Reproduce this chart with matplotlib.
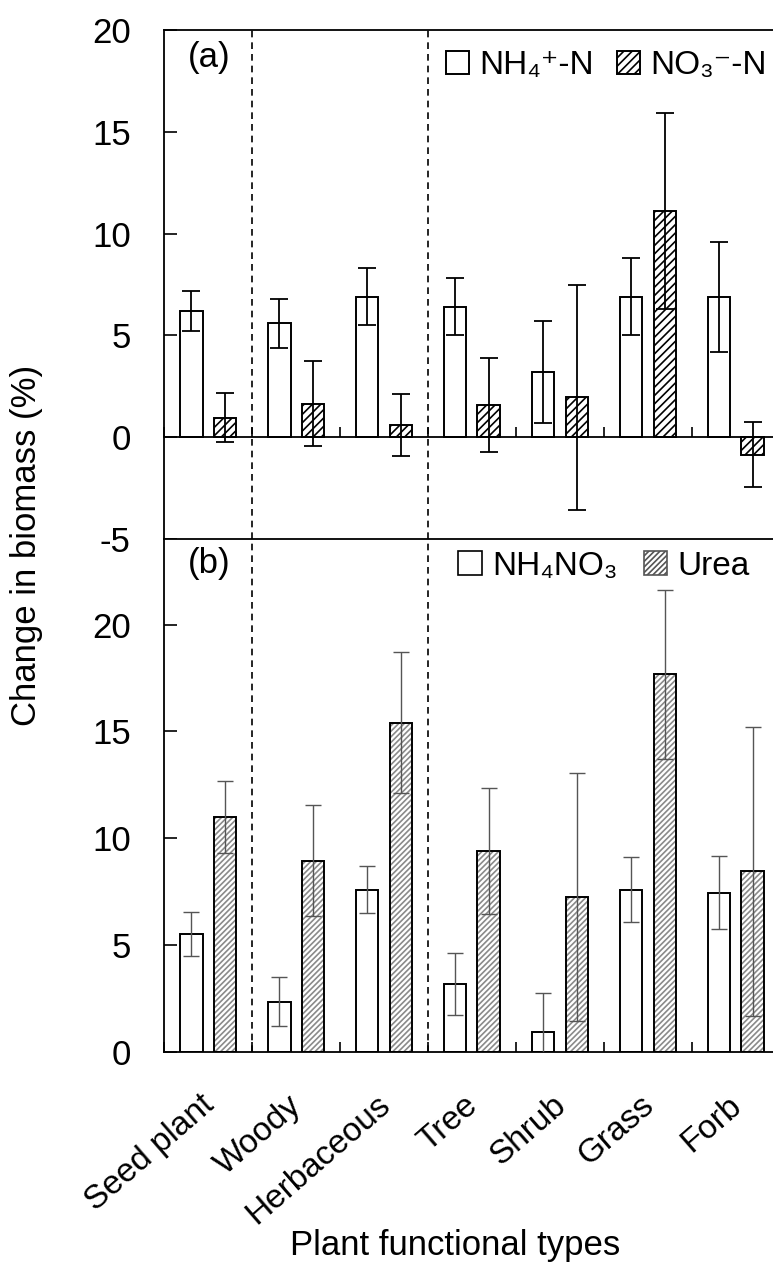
import numpy as np
import matplotlib
matplotlib.use("Agg")
import matplotlib.pyplot as plt
from matplotlib.transforms import ScaledTranslation
from matplotlib.patches import Patch

plt.rcParams['font.family'] = ['Liberation Sans', 'DejaVu Sans']
plt.rcParams['mathtext.default'] = 'regular'
plt.rcParams['hatch.linewidth'] = 1.2
plt.rcParams['axes.unicode_minus'] = False

categories = ["Seed plant", "Woody", "Herbaceous", "Tree", "Shrub", "Grass", "Forb"]

# Panel (a)
nh4_mean = [6.2, 5.6, 6.9, 6.4, 3.2, 6.9, 6.9]
nh4_err = [1.0, 1.2, 1.4, 1.4, 2.5, 1.9, 2.7]
no3_mean = [0.95, 1.65, 0.6, 1.57, 1.95, 11.1, -0.85]
no3_err = [1.2, 2.1, 1.5, 2.3, 5.55, 4.8, 1.6]

# Panel (b)
nh4no3_mean = [5.52, 2.36, 7.6, 3.19, 0.95, 7.6, 7.45]
nh4no3_err = [1.05, 1.15, 1.1, 1.45, 1.8, 1.5, 1.7]
urea_mean = [11.0, 8.95, 15.4, 9.4, 7.25, 17.67, 8.45]
urea_err = [1.7, 2.6, 3.3, 2.95, 5.8, 3.95, 6.75]

W, H = 773, 1278
fig = plt.figure(figsize=(W / 100, H / 100), dpi=100)

left = 164 / W
width = (780 - 164) / W
axa = fig.add_axes([left, (H - 539) / H, width, (539 - 30) / H])
axb = fig.add_axes([left, (H - 1052) / H, width, (1052 - 539) / H])

x = np.arange(len(categories))
off = 0.19
bw = 0.255

# ---- panel (a)
axa.bar(x - off, nh4_mean, bw, color='white', edgecolor='black', linewidth=1.4,
        label='NH\u2084\u207a-N', zorder=2)
axa.bar(x + off, no3_mean, bw, color='white', edgecolor='black', linewidth=1.4,
        hatch='////', label='NO\u2083\u207b-N', zorder=2)
axa.errorbar(x - off, nh4_mean, yerr=nh4_err, fmt='none', ecolor='black',
             elinewidth=1.3, capsize=6.5, capthick=1.3, zorder=3)
axa.errorbar(x + off, no3_mean, yerr=no3_err, fmt='none', ecolor='black',
             elinewidth=1.3, capsize=6.5, capthick=1.3, zorder=3)
axa.set_ylim(-5, 20)
axa.set_yticks([-5, 0, 5, 10, 15, 20])
axa.spines['bottom'].set_position(('data', 0))
axa.spines['bottom'].set_zorder(4)

# ---- panel (b)
axb.bar(x - off, nh4no3_mean, bw, color='white', edgecolor='black', linewidth=1.4,
        zorder=2)
axb.bar(x + off, urea_mean, bw, color='white', edgecolor='#8a8a8a', linewidth=0,
        hatch='//////', zorder=2)
axb.bar(x + off, urea_mean, bw, color='none', edgecolor='black', linewidth=1.4,
        zorder=2.5)
axb.errorbar(x - off, nh4no3_mean, yerr=nh4no3_err, fmt='none', ecolor='#555555',
             elinewidth=1.0, capsize=5.5, capthick=1.0, zorder=3)
axb.errorbar(x + off, urea_mean, yerr=urea_err, fmt='none', ecolor='#555555',
             elinewidth=1.0, capsize=5.5, capthick=1.0, zorder=3)
axb.set_ylim(0, 24)
axb.set_yticks([0, 5, 10, 15, 20])

for ax in (axa, axb):
    ax.set_xlim(-0.5, len(categories) - 0.5)
    ax.set_xticks(np.arange(len(categories) + 1) - 0.5, minor=False)
    for s in ax.spines.values():
        s.set_linewidth(1.3)
    ax.tick_params(axis='y', direction='in', length=9, width=1.2, labelsize=25, pad=24)
    ax.tick_params(axis='x', direction='in', length=7, width=1.2, labelbottom=False)
    ax.axvline(0.5, color='black', linestyle=(0, (4, 3)), linewidth=1.2, zorder=1)
    ax.axvline(2.5, color='black', linestyle=(0, (4, 3)), linewidth=1.2, zorder=1)

# category labels on bottom panel (minor ticks at centres)
axb.set_xticks(x, minor=True)
axb.set_xticklabels(categories, minor=True, rotation=41, ha='right',
                    rotation_mode='anchor', fontsize=24)
axb.tick_params(axis='x', which='minor', length=0, pad=27)
for lab in axb.get_xticklabels(minor=True):
    lab.set_transform(lab.get_transform() + ScaledTranslation(-6 / 72, 0, fig.dpi_scale_trans))

axa.text(0.038, 0.978, '(a)', transform=axa.transAxes, fontsize=25, va='top', ha='left')
axb.text(0.038, 0.985, '(b)', transform=axb.transAxes, fontsize=25, va='top', ha='left')

axa.legend(loc='upper left', bbox_to_anchor=(0.458, 0.96), ncol=2, frameon=False,
           fontsize=24, handlelength=0.7, handleheight=0.7, handletextpad=0.3,
           columnspacing=0.68, borderpad=0, borderaxespad=0)
hb = [Patch(facecolor='white', edgecolor='black', linewidth=1.2),
      Patch(facecolor='white', edgecolor='#555555', hatch='//////', linewidth=1.2)]
axb.legend(hb, ['NH\u2084NO\u2083', 'Urea'], loc='upper left', bbox_to_anchor=(0.478, 0.977),
           ncol=2, frameon=False, fontsize=24, handlelength=0.7, handleheight=0.7,
           handletextpad=0.3, columnspacing=0.8, borderpad=0, borderaxespad=0)

fig.text(27 / W, (H - 545) / H, 'Change in biomass (%)', rotation=90, fontsize=25,
         ha='center', va='center')
fig.text(455 / W, (H - 1245) / H, 'Plant functional types', fontsize=25,
         ha='center', va='center')

fig.savefig('out.png', dpi=100)
